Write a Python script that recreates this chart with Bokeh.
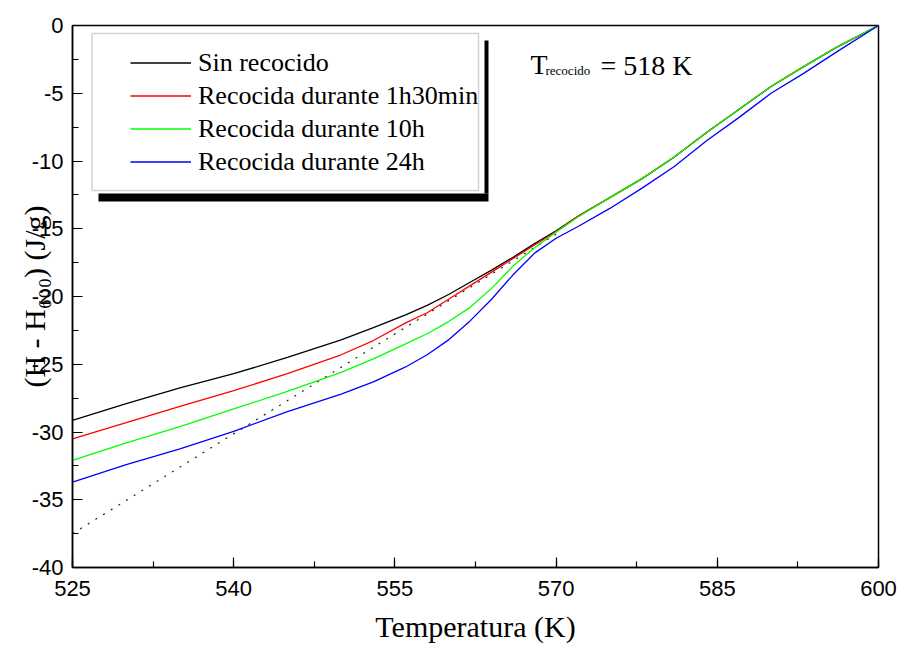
from bokeh.plotting import figure
from bokeh.models import (Range1d, SingleIntervalTicker, Label, Legend, LegendItem,
                          BoxAnnotation)
from bokeh.embed import file_html
from bokeh.resources import INLINE

# ---------------- data ----------------
temperatura = [525, 530, 535, 540, 545, 550, 553, 556, 558, 560, 562, 564, 566,
               568, 570, 572, 575, 578, 581, 584, 587, 590, 593, 596, 600]

sin_recocido = [-29.15, -27.9, -26.75, -25.7, -24.5, -23.2, -22.3, -21.35, -20.65,
                -19.85, -18.95, -18.05, -17.1, -16.1, -15.15, -14.1, -12.7, -11.3,
                -9.7, -7.9, -6.2, -4.5, -3.05, -1.65, 0.0]

recocida_1h30 = [-30.5, -29.3, -28.1, -26.95, -25.7, -24.3, -23.25, -21.95, -21.2,
                 -20.2, -19.2, -18.2, -17.2, -16.2, -15.2, -14.1, -12.7, -11.3,
                 -9.7, -7.9, -6.2, -4.5, -3.05, -1.65, 0.0]

recocida_10h = [-32.1, -30.8, -29.6, -28.3, -27.0, -25.6, -24.6, -23.5, -22.75,
                -21.85, -20.8, -19.4, -17.75, -16.4, -15.25, -14.15, -12.7, -11.3,
                -9.7, -7.9, -6.2, -4.5, -3.05, -1.65, 0.0]

recocida_24h = [-33.7, -32.4, -31.25, -29.95, -28.5, -27.2, -26.3, -25.2, -24.3,
                -23.2, -21.8, -20.2, -18.4, -16.8, -15.7, -14.85, -13.5, -12.0,
                -10.4, -8.5, -6.8, -5.0, -3.55, -2.0, 0.0]

extrapolacion_t = [525, 570]
extrapolacion_h = [-37.5, -15.4]

series_names = ["Sin recocido", "Recocida durante 1h30min",
                "Recocida durante 10h", "Recocida durante 24h"]
series_colors = ["#000000", "#ff0000", "#00ff00", "#0000ff"]

x_tick_values = [525, 540, 555, 570, 585, 600]
y_tick_values = [-40, -35, -30, -25, -20, -15, -10, -5, 0]
y_tick_labels = ["-40", "-35", "-30", "-25", "-20", "-15", "-10", "-5", "0"]

# ---------------- layout ----------------
W, H = 901, 651
FL, FR, FT, FB = 72, 878, 25, 567   # frame edges in pixels
X0, X1, Y0, Y1 = 525, 600, -40, 0


def dx(px):
    return X0 + (px - FL) * (X1 - X0) / (FR - FL)


def dy(py):
    return Y1 - (py - FT) * (Y1 - Y0) / (FB - FT)


p = figure(width=W, height=H, output_backend="svg", toolbar_location=None,
           x_range=Range1d(X0, X1), y_range=Range1d(Y0, Y1),
           min_border_left=FL, min_border_right=W - FR,
           min_border_top=FT, min_border_bottom=H - FB)
p.xgrid.visible = False
p.ygrid.visible = False
p.outline_line_color = "black"
p.outline_line_width = 1.5
p.background_fill_color = "white"
p.border_fill_color = "white"

p.xaxis.ticker = SingleIntervalTicker(interval=x_tick_values[1] - x_tick_values[0], num_minor_ticks=2)
p.yaxis.ticker = SingleIntervalTicker(interval=y_tick_values[1] - y_tick_values[0], num_minor_ticks=2)
p.yaxis.major_label_overrides = {v: s for v, s in zip(y_tick_values, y_tick_labels)}
for ax in (p.xaxis, p.yaxis):
    ax.axis_line_color = "black"
    ax.axis_line_width = 1.5
    ax.major_tick_in = 10
    ax.major_tick_out = 0
    ax.minor_tick_in = 6
    ax.minor_tick_out = 0
    ax.major_tick_line_color = "black"
    ax.minor_tick_line_color = "black"
    ax.major_tick_line_width = 1.2
    ax.minor_tick_line_width = 1.2
    ax.major_label_text_font = "Liberation Sans"
    ax.major_label_text_font_size = "22px"
    ax.major_label_text_color = "black"
    ax.axis_label_text_font = "Liberation Serif"
    ax.axis_label_text_font_style = "normal"
    ax.axis_label_text_color = "black"
p.xaxis.major_label_standoff = 13
p.yaxis.major_label_standoff = 9

p.xaxis.axis_label = "Temperatura (K)"
p.xaxis.axis_label_text_font_size = "30px"
p.xaxis.axis_label_standoff = 11
p.yaxis.axis_label = "(H - H₆₀₀) (J/g)"
p.yaxis.axis_label_text_font_size = "30px"
p.yaxis.axis_label_standoff = -22

# dotted extrapolation
p.line(extrapolacion_t, extrapolacion_h, line_color="#222222", line_width=1.2,
       line_dash="2 7")

renderers = []
for ys, c in zip([sin_recocido, recocida_1h30, recocida_10h, recocida_24h], series_colors):
    r = p.line(temperatura, ys, line_color=c, line_width=1.3)
    renderers.append(r)

# legend frame + shadow
p.add_layout(BoxAnnotation(left=dx(484), right=dx(488), top=dy(40), bottom=dy(193),
                           fill_color="black", fill_alpha=1, line_alpha=0))
p.add_layout(BoxAnnotation(left=dx(98), right=dx(488), top=dy(193), bottom=dy(201),
                           fill_color="black", fill_alpha=1, line_alpha=0))
p.add_layout(BoxAnnotation(left=dx(91.5), right=dx(478), top=dy(33), bottom=dy(190),
                           fill_color="white", fill_alpha=1, line_color="#707070",
                           line_width=1.5))

legend = Legend(items=[LegendItem(label=n, renderers=[r]) for n, r in zip(series_names, renderers)],
                location=(130 - FL, FB - 178),
                border_line_alpha=0, background_fill_alpha=0,
                label_text_font="Liberation Serif", label_text_font_size="26px",
                label_text_color="black",
                glyph_width=61, glyph_height=33, label_height=33, spacing=0,
                padding=0, margin=0, label_standoff=7)
p.add_layout(legend)

# annotation T_recocido = 518 K
p.add_layout(Label(x=dx(530), y=dy(64), text="T", text_baseline="alphabetic",
                   text_font="Liberation Serif", text_font_size="28px", text_color="black"))
p.add_layout(Label(x=dx(545), y=dy(70), text="recocido", text_baseline="alphabetic",
                   text_font="Liberation Serif", text_font_size="13px", text_color="black"))
p.add_layout(Label(x=dx(600), y=dy(65), text="= 518 K", text_baseline="alphabetic",
                   text_font="Liberation Serif", text_font_size="28px", text_color="black"))

open("out.html", "w").write(file_html(p, INLINE))
